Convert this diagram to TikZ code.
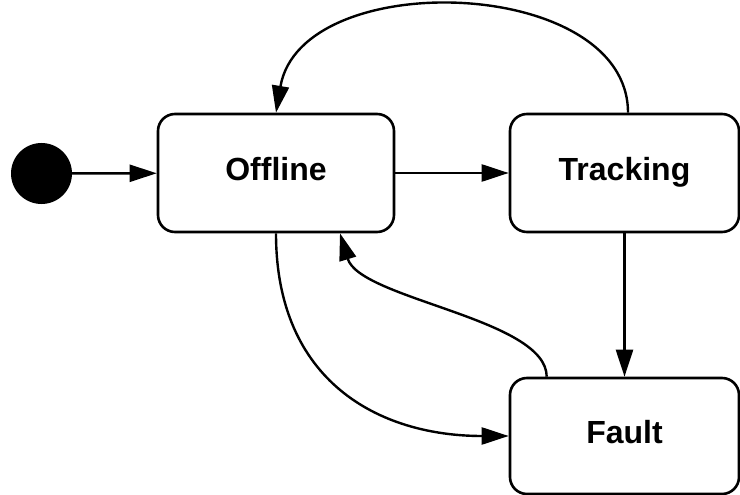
\documentclass[tikz,border=0pt]{standalone}
\usepackage{fontspec}
\setmainfont{Liberation Sans}
\usetikzlibrary{arrows.meta}

\tikzset{
  state/.style={draw, line width=2.6pt, rounded corners=17pt,
    minimum height=118pt, text height=23pt, text depth=8pt,
    font=\fontsize{32}{38}\selectfont\bfseries},
  trans/.style={line width=2.4pt, -{Triangle[length=27pt,width=17pt]}}
}

\begin{document}
\begin{tikzpicture}[x=1pt,y=-1pt]

% Canvas
\useasboundingbox (0,0) rectangle (740,495);

% Initial pseudo state
\node[circle, fill=black, minimum size=61pt, inner sep=0pt] (init) at (41.5,173.5) {};

% States
\node[state, minimum width=236pt] (offline) at (276,173) {Offline};
\node[state, minimum width=229pt] (tracking) at (624.5,173) {Tracking};
\node[state, minimum width=229pt, minimum height=116pt] (fault) at (624.5,436) {Fault};

% Straight transitions
\draw[trans] (init) -- (offline);
\draw[trans] (offline) -- (tracking);
\draw[trans] (tracking.south) -- (fault.north);

% Tracking back to Offline over the top
\draw[trans] ([xshift=3.5pt]tracking.north) .. controls +(0,-137) and +(25,-147) .. (offline.north);

% Offline down to Fault
\draw[trans] (offline.south) .. controls +(0,148) and +(-130,0) .. (fault.west);

% Fault back to Offline
\draw[trans] ([xshift=38pt]fault.north west) .. controls +(0,-58) and +(20,66) .. ([xshift=64pt]offline.south);

\end{tikzpicture}
\end{document}
